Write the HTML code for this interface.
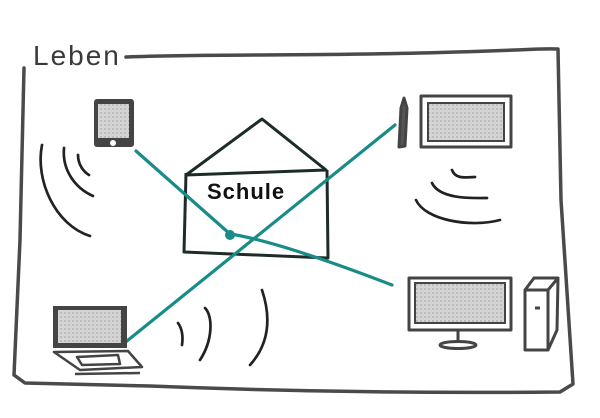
<!DOCTYPE html>
<html><head><style>
body{margin:0;background:#fff;width:600px;height:418px;overflow:hidden}
svg{display:block}
</style></head><body>
<svg width="600" height="418" viewBox="0 0 600 418">
<defs><pattern id="g" width="4" height="4" patternUnits="userSpaceOnUse"><rect width="4" height="4" fill="#d4d4d4"/><rect width="2" height="2" fill="#bdbdbd"/></pattern></defs>
<g fill="none" stroke="#4a4a4a" stroke-width="3.5" stroke-linecap="round" stroke-linejoin="round">
<path d="M126,57 C200,54 300,56 420,53 S540,48 558,49 L561,200 L573,384 L560,392 C450,393 300,392 150,386 L25,383 L14,375 L20,240 L24,68"/>
</g>
<text x="33" y="65" font-family="Liberation Sans, sans-serif" font-size="28" fill="#3a3a3a" letter-spacing="2">Leben</text>
<!-- tablet -->
<rect x="94" y="99" width="40" height="48" rx="3" fill="#444"/>
<rect x="98" y="104" width="31" height="34" fill="url(#g)"/>
<circle cx="113" cy="143" r="3" fill="#fff"/>
<g fill="none" stroke="#222" stroke-width="2.7" stroke-linecap="round">
<path d="M42,145 C35,180 55,225 90,236"/>
<path d="M64,148 C62,170 75,188 93,196"/>
<path d="M78,155 C78,165 84,172 89,175"/>
<path d="M262,290 C272,320 268,345 250,365"/>
<path d="M205,308 C213,316 213,340 200,360"/>
<path d="M178,323 C183,330 183,338 182,345"/>
<path d="M432,183 C440,200 475,198 487,198"/>
<path d="M416,200 C425,220 470,228 500,220"/>
<path d="M452,170 C455,178 462,178 475,177"/>
</g>
<!-- house -->
<g fill="none" stroke="#1d2b29" stroke-width="3" stroke-linejoin="round">
<path d="M186,175 L262,119 L326,170 Z"/>
<path d="M186,173 L184,252 L328,258 L327,170"/>
</g>
<text x="207" y="199" font-family="Liberation Sans, sans-serif" font-size="22" font-weight="bold" fill="#111" letter-spacing="1">Schule</text>
<!-- teal lines -->
<g stroke="#1a8c88" stroke-width="3.2" stroke-linecap="round">
<line x1="136" y1="151" x2="230" y2="234"/>
<path d="M230,234 C270,240 340,265 392,285" fill="none"/>
<line x1="122" y1="345" x2="395" y2="125"/>
</g>
<circle cx="230" cy="235" r="5" fill="#1a8c88"/>
<!-- top right monitor -->
<g fill="none" stroke="#444" stroke-width="3" stroke-linejoin="round">
<rect x="421" y="96" width="90" height="51"/>
<path d="M399,147 L401,108 L404,98 L407,108 L405,146 Z" fill="#555"/>
<rect x="409" y="278" width="102" height="52"/>
<path d="M458,331 L458,343"/>
<ellipse cx="458" cy="345" rx="18" ry="3.5"/>
<path d="M525,290 L525,350 L548,350 L548,290 Z"/>
<path d="M525,290 L534,278 L558,278 L557,330 L548,350 M548,290 L558,278"/>
<path d="M535,308 L540,308"/>
</g>
<rect x="428" y="103" width="76" height="38" fill="url(#g)" stroke="#444" stroke-width="2"/>
<rect x="415" y="283" width="90" height="40" fill="url(#g)" stroke="#444" stroke-width="2"/>
<!-- laptop -->
<rect x="53" y="306" width="74" height="42" fill="#444"/>
<rect x="58" y="310" width="63" height="33" fill="url(#g)"/>
<g fill="none" stroke="#444" stroke-width="2.5" stroke-linejoin="round">
<path d="M54,352 L128,351 L142,367 L80,370 Z"/>
<path d="M75,374 L140,373"/>
<path d="M77,357 L118,355 L120,364 L82,365 Z"/>
</g>
</svg>
</body></html>
